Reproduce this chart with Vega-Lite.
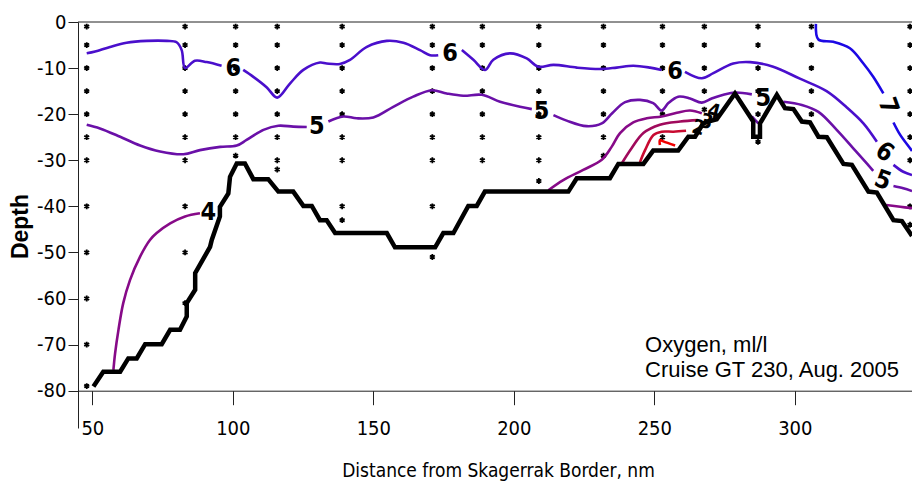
{
  "$schema": "https://vega.github.io/schema/vega-lite/v6.json",
  "width": 834,
  "height": 406,
  "autosize": "none",
  "padding": {"left": 78, "top": 22, "right": 0, "bottom": 67},
  "background": "white",
  "config": {"view": {"stroke": null}},
  "datasets": {
    "contours": [
      {"s":"6a","lv":"6","x":48.0,"y":-6.8},{"s":"6a","lv":"6","x":51.0,"y":-6.4},{"s":"6a","lv":"6","x":56.3,"y":-5.4},{"s":"6a","lv":"6","x":62.2,"y":-4.5},{"s":"6a","lv":"6","x":69.4,"y":-4.1},{"s":"6a","lv":"6","x":76.5,"y":-4.1},{"s":"6a","lv":"6","x":80.0,"y":-4.4},{"s":"6a","lv":"6","x":81.8,"y":-6.1},{"s":"6a","lv":"6","x":83.0,"y":-10.0},{"s":"6a","lv":"6","x":86.5,"y":-8.4},{"s":"6a","lv":"6","x":90.7,"y":-8.7},{"s":"6a","lv":"6","x":96.0,"y":-9.5},
      {"s":"6b","lv":"6","x":103.7,"y":-10.4},{"s":"6b","lv":"6","x":107.3,"y":-11.9},{"s":"6b","lv":"6","x":112.1,"y":-14.2},{"s":"6b","lv":"6","x":115.8,"y":-16.4},{"s":"6b","lv":"6","x":120.4,"y":-13.3},{"s":"6b","lv":"6","x":125.1,"y":-10.4},{"s":"6b","lv":"6","x":131.0,"y":-8.8},{"s":"6b","lv":"6","x":133.4,"y":-9.0},{"s":"6b","lv":"6","x":138.1,"y":-9.1},{"s":"6b","lv":"6","x":141.7,"y":-8.2},{"s":"6b","lv":"6","x":147.7,"y":-5.4},{"s":"6b","lv":"6","x":154.8,"y":-4.1},{"s":"6b","lv":"6","x":160.7,"y":-4.5},{"s":"6b","lv":"6","x":166.6,"y":-6.1},{"s":"6b","lv":"6","x":170.2,"y":-7.2},{"s":"6b","lv":"6","x":173.1,"y":-7.2},
      {"s":"6c","lv":"6","x":181.5,"y":-6.1},{"s":"6c","lv":"6","x":185.6,"y":-8.2},{"s":"6c","lv":"6","x":189.8,"y":-10.4},{"s":"6c","lv":"6","x":192.7,"y":-8.2},{"s":"6c","lv":"6","x":198.6,"y":-6.8},{"s":"6c","lv":"6","x":204.6,"y":-7.9},{"s":"6c","lv":"6","x":208.7,"y":-9.7},{"s":"6c","lv":"6","x":214.1,"y":-9.3},{"s":"6c","lv":"6","x":222.4,"y":-9.9},{"s":"6c","lv":"6","x":230.7,"y":-10.2},{"s":"6c","lv":"6","x":236.6,"y":-9.9},{"s":"6c","lv":"6","x":242.5,"y":-9.5},{"s":"6c","lv":"6","x":248.5,"y":-9.9},{"s":"6c","lv":"6","x":252.6,"y":-10.4},
      {"s":"6d","lv":"6","x":260.9,"y":-10.8},{"s":"6d","lv":"6","x":266.9,"y":-12.2},{"s":"6d","lv":"6","x":271.0,"y":-11.1},{"s":"6d","lv":"6","x":278.1,"y":-9.0},{"s":"6d","lv":"6","x":284.1,"y":-8.7},{"s":"6d","lv":"6","x":292.3,"y":-9.7},{"s":"6d","lv":"6","x":301.8,"y":-12.3},{"s":"6d","lv":"6","x":311.3,"y":-15.0},{"s":"6d","lv":"6","x":318.6,"y":-18.6},{"s":"6d","lv":"6","x":324.4,"y":-22.0},{"s":"6d","lv":"6","x":329.2,"y":-26.0},
      {"s":"6e","lv":"6","x":335.1,"y":-31.0},{"s":"6e","lv":"6","x":338.6,"y":-32.5},{"s":"6e","lv":"6","x":341.7,"y":-33.2},
      {"s":"7a","lv":"7","x":307.5,"y":-0.4},{"s":"7a","lv":"7","x":308.4,"y":-3.8},{"s":"7a","lv":"7","x":313.7,"y":-4.3},{"s":"7a","lv":"7","x":319.6,"y":-5.7},{"s":"7a","lv":"7","x":324.4,"y":-9.0},{"s":"7a","lv":"7","x":327.9,"y":-11.9},{"s":"7a","lv":"7","x":331.5,"y":-15.5},
      {"s":"7b","lv":"7","x":335.1,"y":-21.8},{"s":"7b","lv":"7","x":337.5,"y":-24.5},{"s":"7b","lv":"7","x":341.0,"y":-27.4},{"s":"7b","lv":"7","x":341.7,"y":-28.0},
      {"s":"5a","lv":"5","x":48.0,"y":-22.3},{"s":"5a","lv":"5","x":52.7,"y":-23.1},{"s":"5a","lv":"5","x":59.9,"y":-24.9},{"s":"5a","lv":"5","x":67.0,"y":-26.8},{"s":"5a","lv":"5","x":74.1,"y":-28.1},{"s":"5a","lv":"5","x":82.4,"y":-28.7},{"s":"5a","lv":"5","x":88.3,"y":-27.8},{"s":"5a","lv":"5","x":95.5,"y":-27.1},{"s":"5a","lv":"5","x":101.4,"y":-26.8},{"s":"5a","lv":"5","x":104.9,"y":-25.6},{"s":"5a","lv":"5","x":110.9,"y":-23.4},{"s":"5a","lv":"5","x":116.2,"y":-22.5},{"s":"5a","lv":"5","x":121.5,"y":-22.7},{"s":"5a","lv":"5","x":126.3,"y":-22.8},
      {"s":"5b","lv":"5","x":134.0,"y":-21.6},{"s":"5b","lv":"5","x":139.3,"y":-20.5},{"s":"5b","lv":"5","x":144.1,"y":-20.9},{"s":"5b","lv":"5","x":150.0,"y":-20.7},{"s":"5b","lv":"5","x":157.1,"y":-18.4},{"s":"5b","lv":"5","x":164.2,"y":-16.2},{"s":"5b","lv":"5","x":170.8,"y":-14.8},{"s":"5b","lv":"5","x":176.1,"y":-15.5},{"s":"5b","lv":"5","x":182.0,"y":-16.0},{"s":"5b","lv":"5","x":188.6,"y":-15.8},{"s":"5b","lv":"5","x":195.1,"y":-17.3},{"s":"5b","lv":"5","x":202.2,"y":-18.4},{"s":"5b","lv":"5","x":206.4,"y":-18.9},
      {"s":"5c","lv":"5","x":214.1,"y":-20.2},{"s":"5c","lv":"5","x":218.8,"y":-21.4},{"s":"5c","lv":"5","x":225.9,"y":-22.6},{"s":"5c","lv":"5","x":231.3,"y":-22.0},{"s":"5c","lv":"5","x":235.0,"y":-19.8},{"s":"5c","lv":"5","x":239.6,"y":-17.4},{"s":"5c","lv":"5","x":244.9,"y":-16.9},{"s":"5c","lv":"5","x":249.6,"y":-17.6},{"s":"5c","lv":"5","x":252.6,"y":-19.2},{"s":"5c","lv":"5","x":255.0,"y":-17.6},{"s":"5c","lv":"5","x":258.5,"y":-16.2},{"s":"5c","lv":"5","x":262.7,"y":-16.6},{"s":"5c","lv":"5","x":266.9,"y":-17.5},{"s":"5c","lv":"5","x":270.4,"y":-16.6},{"s":"5c","lv":"5","x":274.6,"y":-15.8},{"s":"5c","lv":"5","x":278.7,"y":-15.3},{"s":"5c","lv":"5","x":284.7,"y":-15.7},
      {"s":"5d","lv":"5","x":284.7,"y":-20.5},{"s":"5d","lv":"5","x":287.0,"y":-22.0},
      {"s":"5e","lv":"5","x":295.9,"y":-17.3},{"s":"5e","lv":"5","x":302.5,"y":-18.0},{"s":"5e","lv":"5","x":308.4,"y":-19.5},{"s":"5e","lv":"5","x":314.9,"y":-23.4},{"s":"5e","lv":"5","x":320.8,"y":-27.4},{"s":"5e","lv":"5","x":325.6,"y":-30.7},{"s":"5e","lv":"5","x":327.9,"y":-32.3},
      {"s":"5f","lv":"5","x":335.1,"y":-35.6},{"s":"5f","lv":"5","x":338.6,"y":-36.1},{"s":"5f","lv":"5","x":341.7,"y":-36.7},
      {"s":"4a","lv":"4","x":57.5,"y":-75.5},{"s":"4a","lv":"4","x":58.1,"y":-71.9},{"s":"4a","lv":"4","x":59.3,"y":-66.8},{"s":"4a","lv":"4","x":61.0,"y":-61.0},{"s":"4a","lv":"4","x":63.4,"y":-56.0},{"s":"4a","lv":"4","x":67.0,"y":-50.9},{"s":"4a","lv":"4","x":70.5,"y":-47.3},{"s":"4a","lv":"4","x":72.9,"y":-45.8},{"s":"4a","lv":"4","x":77.7,"y":-43.7},{"s":"4a","lv":"4","x":83.0,"y":-42.2},{"s":"4a","lv":"4","x":88.3,"y":-41.5},
      {"s":"4b","lv":"4","x":212.3,"y":-36.5},{"s":"4b","lv":"4","x":217.6,"y":-34.3},{"s":"4b","lv":"4","x":224.7,"y":-32.1},{"s":"4b","lv":"4","x":231.3,"y":-29.9},{"s":"4b","lv":"4","x":234.8,"y":-27.1},{"s":"4b","lv":"4","x":237.8,"y":-24.1},{"s":"4b","lv":"4","x":242.5,"y":-21.8},{"s":"4b","lv":"4","x":247.3,"y":-20.9},{"s":"4b","lv":"4","x":252.6,"y":-20.5},{"s":"4b","lv":"4","x":258.0,"y":-19.7},{"s":"4b","lv":"4","x":262.7,"y":-19.2},{"s":"4b","lv":"4","x":266.9,"y":-19.8},
      {"s":"4c","lv":"4","x":332.5,"y":-39.7},{"s":"4c","lv":"4","x":337.5,"y":-40.1},{"s":"4c","lv":"4","x":341.7,"y":-40.4},
      {"s":"3a","lv":"3","x":238.4,"y":-30.7},{"s":"3a","lv":"3","x":241.9,"y":-27.4},{"s":"3a","lv":"3","x":246.1,"y":-24.1},{"s":"3a","lv":"3","x":252.0,"y":-22.3},{"s":"3a","lv":"3","x":259.2,"y":-21.6},{"s":"3a","lv":"3","x":265.5,"y":-21.3},
      {"s":"2a","lv":"2","x":244.9,"y":-30.4},{"s":"2a","lv":"2","x":246.7,"y":-27.8},{"s":"2a","lv":"2","x":249.7,"y":-24.5},{"s":"2a","lv":"2","x":252.6,"y":-23.8},{"s":"2a","lv":"2","x":256.8,"y":-23.8},{"s":"2a","lv":"2","x":261.3,"y":-23.6},
      {"s":"1a","lv":"1","x":252.0,"y":-26.7},{"s":"1a","lv":"1","x":252.0,"y":-25.6},{"s":"1a","lv":"1","x":253.2,"y":-25.9},{"s":"1a","lv":"1","x":257.4,"y":-26.8}
    ],
    "bottom": [
      {"x":50.4,"y":-79.1},{"x":53.9,"y":-75.9},{"x":59.9,"y":-75.9},{"x":62.8,"y":-73.0},{"x":65.8,"y":-73.0},{"x":68.8,"y":-69.9},{"x":74.7,"y":-69.9},{"x":77.7,"y":-66.8},{"x":81.2,"y":-66.8},{"x":83.6,"y":-63.9},{"x":83.6,"y":-61.0},{"x":86.6,"y":-58.1},{"x":86.6,"y":-54.5},{"x":91.9,"y":-48.8},{"x":92.5,"y":-47.3},{"x":95.4,"y":-42.2},{"x":95.4,"y":-40.1},{"x":98.4,"y":-37.2},{"x":99.0,"y":-33.6},{"x":101.4,"y":-30.7},{"x":104.3,"y":-30.7},{"x":107.3,"y":-34.1},{"x":112.6,"y":-34.1},{"x":116.2,"y":-36.8},{"x":121.5,"y":-36.8},{"x":125.1,"y":-39.9},{"x":128.1,"y":-39.9},{"x":131.0,"y":-43.0},{"x":133.4,"y":-43.0},{"x":136.4,"y":-45.8},{"x":154.8,"y":-45.8},{"x":157.7,"y":-48.9},{"x":172.0,"y":-48.9},{"x":174.9,"y":-45.8},{"x":178.5,"y":-45.8},{"x":183.8,"y":-39.9},{"x":186.8,"y":-39.9},{"x":189.7,"y":-36.8},{"x":219.4,"y":-36.8},{"x":222.4,"y":-33.9},{"x":234.2,"y":-33.9},{"x":237.2,"y":-30.8},{"x":246.1,"y":-30.8},{"x":249.6,"y":-27.9},{"x":258.5,"y":-27.9},{"x":262.1,"y":-24.9},{"x":264.5,"y":-24.9},{"x":267.4,"y":-22.0},{"x":269.8,"y":-21.5},{"x":272.2,"y":-21.1},{"x":278.7,"y":-15.5},{"x":285.2,"y":-21.6},{"x":285.2,"y":-24.9},{"x":287.6,"y":-24.9},{"x":287.6,"y":-22.0},{"x":293.6,"y":-15.8},{"x":296.5,"y":-18.7},{"x":299.5,"y":-18.9},{"x":302.5,"y":-21.6},{"x":305.4,"y":-21.8},{"x":308.4,"y":-24.9},{"x":311.4,"y":-25.0},{"x":317.3,"y":-30.8},{"x":320.3,"y":-31.0},{"x":326.2,"y":-36.8},{"x":329.2,"y":-37.0},{"x":335.1,"y":-43.0},{"x":338.1,"y":-43.2},{"x":341.0,"y":-45.8},{"x":341.7,"y":-46.4}
    ],
    "stations": [
      {"x":48.0,"d":-1},{"x":48.0,"d":-5},{"x":48.0,"d":-10},{"x":48.0,"d":-15},{"x":48.0,"d":-20},{"x":48.0,"d":-25},{"x":48.0,"d":-30},{"x":48.0,"d":-40},{"x":48.0,"d":-50},{"x":48.0,"d":-60},{"x":48.0,"d":-70},{"x":48.0,"d":-79},
      {"x":83.0,"d":-1},{"x":83.0,"d":-5},{"x":83.0,"d":-10},{"x":83.0,"d":-15},{"x":83.0,"d":-20},{"x":83.0,"d":-25},{"x":83.0,"d":-30},{"x":83.0,"d":-40},{"x":83.0,"d":-50},{"x":83.0,"d":-61},
      {"x":101.0,"d":-1},{"x":101.0,"d":-5},{"x":101.0,"d":-10},{"x":101.0,"d":-15},{"x":101.0,"d":-20},{"x":101.0,"d":-25},{"x":101.0,"d":-29},
      {"x":115.8,"d":-1},{"x":115.8,"d":-5},{"x":115.8,"d":-10},{"x":115.8,"d":-15},{"x":115.8,"d":-20},{"x":115.8,"d":-25},{"x":115.8,"d":-30},{"x":115.8,"d":-32},
      {"x":138.9,"d":-1},{"x":138.9,"d":-5},{"x":138.9,"d":-10},{"x":138.9,"d":-15},{"x":138.9,"d":-20},{"x":138.9,"d":-25},{"x":138.9,"d":-30},{"x":138.9,"d":-40},{"x":138.9,"d":-43},
      {"x":171.0,"d":-1},{"x":171.0,"d":-5},{"x":171.0,"d":-10},{"x":171.0,"d":-15},{"x":171.0,"d":-20},{"x":171.0,"d":-25},{"x":171.0,"d":-30},{"x":171.0,"d":-40},{"x":171.0,"d":-51},
      {"x":188.8,"d":-1},{"x":188.8,"d":-5},{"x":188.8,"d":-10},{"x":188.8,"d":-15},{"x":188.8,"d":-20},{"x":188.8,"d":-25},{"x":188.8,"d":-30},
      {"x":208.9,"d":-1},{"x":208.9,"d":-5},{"x":208.9,"d":-10},{"x":208.9,"d":-15},{"x":208.9,"d":-20},{"x":208.9,"d":-25},{"x":208.9,"d":-30},{"x":208.9,"d":-34.5},
      {"x":231.9,"d":-1},{"x":231.9,"d":-5},{"x":231.9,"d":-10},{"x":231.9,"d":-15},{"x":231.9,"d":-20},{"x":231.9,"d":-25},{"x":231.9,"d":-29},
      {"x":252.9,"d":-1},{"x":252.9,"d":-5},{"x":252.9,"d":-10},{"x":252.9,"d":-15},{"x":252.9,"d":-20},{"x":252.9,"d":-25},
      {"x":267.8,"d":-1},{"x":267.8,"d":-5},{"x":267.8,"d":-10},{"x":267.8,"d":-15},{"x":267.8,"d":-19},
      {"x":286.9,"d":-1},{"x":286.9,"d":-5},{"x":286.9,"d":-10},{"x":286.9,"d":-15},{"x":286.9,"d":-20},{"x":286.9,"d":-26},
      {"x":305.9,"d":-1},{"x":305.9,"d":-5},{"x":305.9,"d":-10},{"x":305.9,"d":-15},{"x":305.9,"d":-20},
      {"x":341.0,"d":-1},{"x":341.0,"d":-5},{"x":341.0,"d":-10},{"x":341.0,"d":-15},{"x":341.0,"d":-20},{"x":341.0,"d":-25},{"x":341.0,"d":-30},{"x":341.0,"d":-40},{"x":341.0,"d":-44}
    ],
    "labels": [
      {"t":"6","x":100.2,"y":-10.0,"g":"a"},
      {"t":"6","x":177.3,"y":-6.8,"g":"a"},
      {"t":"6","x":257.4,"y":-10.6,"g":"a"},
      {"t":"5","x":129.9,"y":-22.6,"g":"a"},
      {"t":"5","x":209.9,"y":-19.3,"g":"a"},
      {"t":"5","x":288.8,"y":-16.6,"g":"a"},
      {"t":"4","x":91.3,"y":-41.2,"g":"a"},
      {"t":"4","x":271.2,"y":-19.5,"g":"s"},
      {"t":"3","x":268.5,"y":-21.7,"g":"s"},
      {"t":"2","x":265.7,"y":-23.0,"g":"s"},
      {"t":"7","x":333.3,"y":-18.2,"g":"r7"},
      {"t":"6","x":332.0,"y":-28.2,"g":"r6"},
      {"t":"5","x":331.3,"y":-34.3,"g":"r5"}
    ]
  },
  "layer": [
    {
      "data": {"values": [{}]},
      "mark": {"type": "rule", "color": "#222", "strokeWidth": 1},
      "encoding": {"y": {"datum": 0}}
    },
    {
      "data": {"name": "stations"},
      "mark": {"type": "point", "shape": "M0,-1V1M-0.85,-0.5L0.85,0.5M-0.85,0.5L0.85,-0.5", "filled": false, "stroke": "black", "strokeWidth": 1.8, "size": 34, "opacity": 1},
      "encoding": {
        "x": {"field": "x", "type": "quantitative", "scale": {"domain": [44.9, 341.7], "nice": false, "zero": false},
          "axis": {"values": [50,100,150,200,250,300], "offset": -37.3, "grid": false, "domainColor": "#222", "tickColor": "#222", "tickSize": 14, "labelFont": "DejaVu Sans Condensed, Liberation Sans, sans-serif", "labelFontSize": 20, "labelColor": "black", "labelPadding": 14,
            "title": "Distance from Skagerrak Border, nm", "titleFont": "DejaVu Sans Condensed, Liberation Sans, sans-serif", "titleFontSize": 19, "titleFontWeight": "normal", "titleColor": "black", "titleX": 420, "titleY": 86, "titleBaseline": "alphabetic", "titleAnchor": null}},
        "y": {"field": "d", "type": "quantitative", "scale": {"domain": [-88.1, 0], "nice": false, "zero": false},
          "axis": {"values": [-80,-70,-60,-50,-40,-30,-20,-10,0], "labelExpr": "'' + datum.value", "grid": false, "domainColor": "#222", "tickColor": "#222", "tickSize": 10, "labelFont": "DejaVu Sans Condensed, Liberation Sans, sans-serif", "labelFontSize": 20, "labelColor": "black", "labelPadding": 2,
            "title": "Depth", "titleFont": "Liberation Sans, Arial, sans-serif", "titleFontSize": 23, "titleFontWeight": "bold", "titleColor": "black", "titleAngle": -90, "titleX": -58, "titleY": 204, "titleAlign": "center", "titleBaseline": "middle"}}
      }
    },
    {
      "data": {"name": "contours"},
      "mark": {"type": "line", "strokeWidth": 2.6, "interpolate": "catmull-rom"},
      "encoding": {
        "x": {"field": "x", "type": "quantitative"},
        "y": {"field": "y", "type": "quantitative"},
        "detail": {"field": "s"},
        "order": {"value": null},
        "color": {"field": "lv", "type": "nominal", "legend": null,
          "scale": {"domain": ["7","6","5","4","3","2","1"], "range": ["#1c08e4","#4a0fcc","#6a10a8","#870a88","#a00a5c","#c80a30","#f00000"]}}
      }
    },
    {
      "data": {"name": "bottom"},
      "mark": {"type": "line", "color": "black", "strokeWidth": 4.5, "strokeJoin": "miter"},
      "encoding": {
        "x": {"field": "x", "type": "quantitative"},
        "y": {"field": "y", "type": "quantitative"},
        "order": {"value": null}
      }
    },
    {
      "data": {"name": "labels"},
      "transform": [{"filter": "datum.g == 'a'"}],
      "mark": {"type": "text", "font": "DejaVu Sans Condensed, Liberation Sans, sans-serif", "fontWeight": "bold", "fontSize": 25, "color": "black", "align": "center", "baseline": "middle"},
      "encoding": {"x": {"field": "x", "type": "quantitative"}, "y": {"field": "y", "type": "quantitative"}, "text": {"field": "t"}}
    },
    {
      "data": {"name": "labels"},
      "transform": [{"filter": "datum.g == 's'"}],
      "mark": {"type": "text", "font": "DejaVu Sans Condensed, Liberation Sans, sans-serif", "fontWeight": "bold", "fontSize": 20, "color": "black", "align": "center", "baseline": "middle", "angle": 15},
      "encoding": {"x": {"field": "x", "type": "quantitative"}, "y": {"field": "y", "type": "quantitative"}, "text": {"field": "t"}}
    },
    {
      "data": {"name": "labels"},
      "transform": [{"filter": "datum.g == 'r7'"}],
      "mark": {"type": "text", "font": "DejaVu Sans Condensed, Liberation Sans, sans-serif", "fontWeight": "bold", "fontSize": 25, "color": "black", "align": "center", "baseline": "middle", "angle": 70},
      "encoding": {"x": {"field": "x", "type": "quantitative"}, "y": {"field": "y", "type": "quantitative"}, "text": {"field": "t"}}
    },
    {
      "data": {"name": "labels"},
      "transform": [{"filter": "datum.g == 'r6'"}],
      "mark": {"type": "text", "font": "DejaVu Sans Condensed, Liberation Sans, sans-serif", "fontWeight": "bold", "fontSize": 25, "color": "black", "align": "center", "baseline": "middle", "angle": 35},
      "encoding": {"x": {"field": "x", "type": "quantitative"}, "y": {"field": "y", "type": "quantitative"}, "text": {"field": "t"}}
    },
    {
      "data": {"name": "labels"},
      "transform": [{"filter": "datum.g == 'r5'"}],
      "mark": {"type": "text", "font": "DejaVu Sans Condensed, Liberation Sans, sans-serif", "fontWeight": "bold", "fontSize": 25, "color": "black", "align": "center", "baseline": "middle", "angle": 20},
      "encoding": {"x": {"field": "x", "type": "quantitative"}, "y": {"field": "y", "type": "quantitative"}, "text": {"field": "t"}}
    },
    {
      "data": {"values": [{}]},
      "mark": {"type": "text", "font": "Liberation Sans, Arial, sans-serif", "fontSize": 22, "color": "black", "align": "left", "baseline": "alphabetic", "lineHeight": 25.5,
        "text": ["Oxygen, ml/l", "Cruise GT 230, Aug. 2005"]},
      "encoding": {"x": {"datum": 246.7}, "y": {"datum": -71.5}}
    }
  ]
}
